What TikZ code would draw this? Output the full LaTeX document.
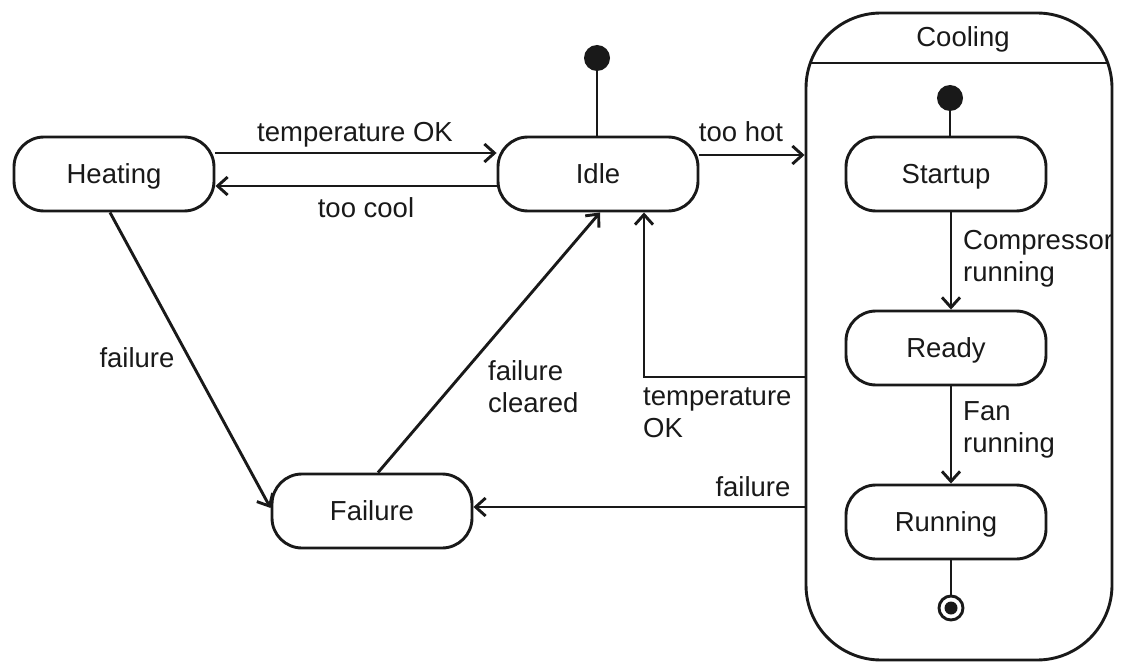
\documentclass[tikz,border=0pt]{standalone}
\usepackage{fontspec}
\setmainfont{Liberation Sans}
\usetikzlibrary{arrows.meta,calc}
\begin{document}
\begin{tikzpicture}[x=1pt,y=1pt,
  every node/.style={font=\fontsize{27.5}{32}\selectfont, text=black!90},
  state/.style={draw=black!90, line width=2.9pt, rounded corners=30pt, minimum width=200pt, minimum height=74pt, inner sep=0pt, text depth=-2pt},
  ln/.style={line width=2.9pt, draw=black!90},
  arr/.style={ln, -{Straight Barb[length=10pt,width=18pt,line width=2.9pt]}},
  initdot/.style={circle, fill=black!90, minimum size=26pt, inner sep=0pt},
  lbl/.style={inner sep=0pt, align=left}
]
\useasboundingbox (0,0) rectangle (1121,-663);
% composite state
\node[draw=black!90, line width=2.9pt, rounded corners=75pt, minimum width=306pt, minimum height=647pt, inner sep=0pt,
  path picture={\draw[line width=2.9pt, black!90] ([yshift=-50pt]path picture bounding box.north west) -- ([yshift=-50pt]path picture bounding box.north east);}]
  (cool) at (959,-336.5) {};
\node[lbl, anchor=base] (cooltitle) at (963,-47) {Cooling};
% states
\node[state] (heat) at (114,-174) {Heating};
\node[state] (idle) at (598,-174) {Idle};
\node[state] (fail) at (372,-511) {Failure};
\node[state] (start) at (946,-174) {Startup};
\node[state] (ready) at (946,-348) {Ready};
\node[state] (run) at (946,-522) {Running};
% initial and final
\node[initdot] (i1) at (597,-58) {};
\node[initdot] (i2) at (950,-98) {};
\node[circle, draw=black!90, line width=2.9pt, minimum size=24pt, inner sep=0pt] (fin) at (951,-608) {};
\fill[black!90] (fin.center) circle (6.5pt);
\draw[ln] (i1) -- (i1 |- idle.north);
\draw[ln] (i2) -- (i2 |- start.north);
\draw[ln] ([xshift=5pt]run.south) -- (fin.north);
% transitions
\draw[arr] ([yshift=21pt]heat.east) -- ([yshift=21pt]idle.west);
\draw[arr] ([yshift=-12pt]idle.west) -- ([yshift=-12pt]heat.east);
\draw[arr] ([yshift=19pt]idle.east) -- ([yshift=19pt]idle.east -| cool.west);
\draw[arr] ([xshift=5pt]start.south) -- ([xshift=5pt]ready.north);
\draw[arr] ([xshift=5pt]ready.south) -- ([xshift=5pt]run.north);
\draw[arr] ([xshift=-4pt]heat.south) -- ([yshift=3pt]fail.west);
\draw[arr] ([xshift=6pt]fail.north) -- ([xshift=2pt]idle.south);
\coordinate (c377) at (0,-377);
\coordinate (c507) at (0,-507);
\draw[arr] (cool.west |- c377) -| ([xshift=46pt]idle.south);
\draw[arr] (cool.west |- c507) -- (fail.east |- c507);
% labels
\node[lbl, anchor=base] (l1) at (355,-142) {temperature OK};
\node[lbl, anchor=base] (l2) at (366,-217) {too cool};
\node[lbl, anchor=base] (l3) at (741,-142) {too hot};
\node[lbl, anchor=base west] (l4) at (963,-281) {Compressor\\running};
\node[lbl, anchor=base west] (l5) at (963,-452) {Fan\\running};
\node[lbl, anchor=base] (l6) at (137,-367) {failure};
\node[lbl, anchor=base west] (l7) at (488,-412) {failure\\cleared};
\node[lbl, anchor=base west] (l8) at (643,-437) {temperature\\OK};
\node[lbl, anchor=base] (l9) at (753,-496) {failure};
\end{tikzpicture}
\end{document}
